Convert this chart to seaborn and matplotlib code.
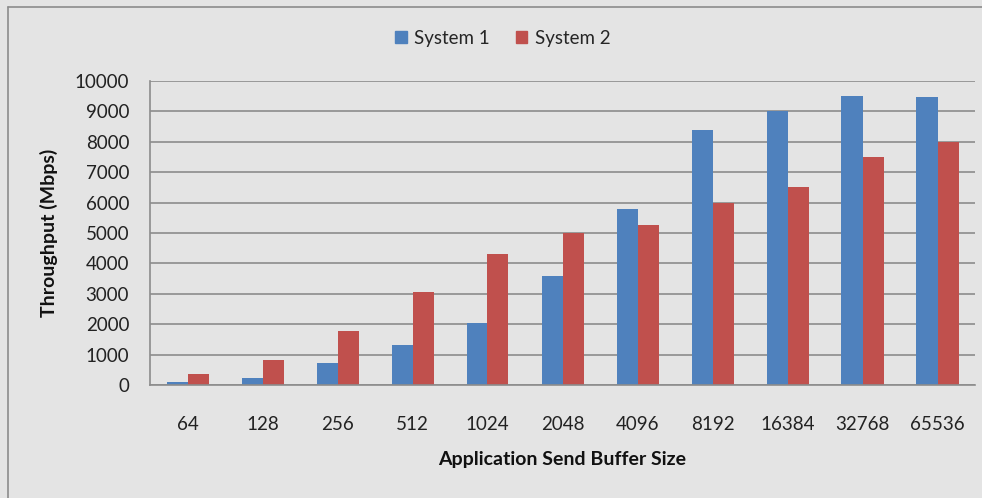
import pandas as pd
import matplotlib.pyplot as plt
import matplotlib.patches as mpatches
import seaborn as sns

# Data
buffer_sizes = ['64', '128', '256', '512', '1024', '2048', '4096',
                '8192', '16384', '32768', '65536']
system1 = [100, 230, 730, 1300, 2050, 3600, 5800, 8380, 9000, 9500, 9460]
system2 = [370, 810, 1770, 3050, 4300, 5000, 5250, 6000, 6500, 7500, 8000]
series_names = ['System 1', 'System 2']
colors = ['#4F81BD', '#C0504D']
y_ticks = [0, 1000, 2000, 3000, 4000, 5000, 6000, 7000, 8000, 9000, 10000]

df = pd.DataFrame({
    'size': buffer_sizes * 2,
    'value': system1 + system2,
    'system': [series_names[0]] * len(buffer_sizes) + [series_names[1]] * len(buffer_sizes),
})

sns.set_style('white')
plt.rcParams['font.family'] = ['Lato', 'DejaVu Sans']

bg = '#E4E4E4'
fig = plt.figure(figsize=(9.82, 4.98), dpi=100, facecolor=bg)
ax = fig.add_axes([150 / 982, 1 - 385 / 498, 825 / 982, 304 / 498])
ax.set_facecolor(bg)

sns.barplot(data=df, x='size', y='value', hue='system', order=buffer_sizes,
            palette=colors, width=0.56, saturation=1, ax=ax, legend=False)
for p in ax.patches:
    p.set_edgecolor('none')

ax.set_ylim(0, 10000)
ax.set_xlim(-0.5, len(buffer_sizes) - 0.5)
ax.set_yticks(y_ticks)
ax.yaxis.grid(True, color='#8C8C8C', linewidth=1.2)
ax.set_axisbelow(True)

# category boundary tick marks
ax.set_xticks([i - 0.5 for i in range(len(buffer_sizes) + 1)], minor=True)
ax.tick_params(axis='x', which='minor', length=8, width=1.2, color='#8C8C8C', direction='out')
ax.tick_params(axis='x', which='major', length=0, pad=22, labelsize=13.5, labelcolor='#222222')
ax.tick_params(axis='y', length=7, width=1.2, color='#8C8C8C', direction='out', pad=8,
               labelsize=13.5, labelcolor='#222222')
ax.set_xticks(range(len(buffer_sizes)))
ax.set_xticklabels(buffer_sizes)

for s in ['top', 'right']:
    ax.spines[s].set_visible(False)
for s in ['left', 'bottom']:
    ax.spines[s].set_color('#8C8C8C')
    ax.spines[s].set_linewidth(1.2)

ax.set_xlabel('Application Send Buffer Size', fontsize=14, fontweight='bold', labelpad=13, color='#111111')
ax.set_ylabel('Throughput (Mbps)', fontsize=14, fontweight='bold', labelpad=12, color='#111111')

handles = [mpatches.Patch(color=c, label=n) for c, n in zip(colors, series_names)]
fig.legend(handles=handles, loc='center', bbox_to_anchor=(503 / 982, 1 - 38 / 498), ncol=2,
           frameon=False, fontsize=13.5, handlelength=0.6, handleheight=0.6,
           handletextpad=0.4, columnspacing=1.4)

# outer chart border
fig.add_artist(plt.Line2D([8 / 982, 8 / 982], [0, 1 - 7 / 498], transform=fig.transFigure,
                          color='#8C8C8C', linewidth=1.2))
fig.add_artist(plt.Line2D([8 / 982, 1], [1 - 7 / 498, 1 - 7 / 498], transform=fig.transFigure,
                          color='#8C8C8C', linewidth=1.2))

plt.savefig('out.png', dpi=100, facecolor=bg)
